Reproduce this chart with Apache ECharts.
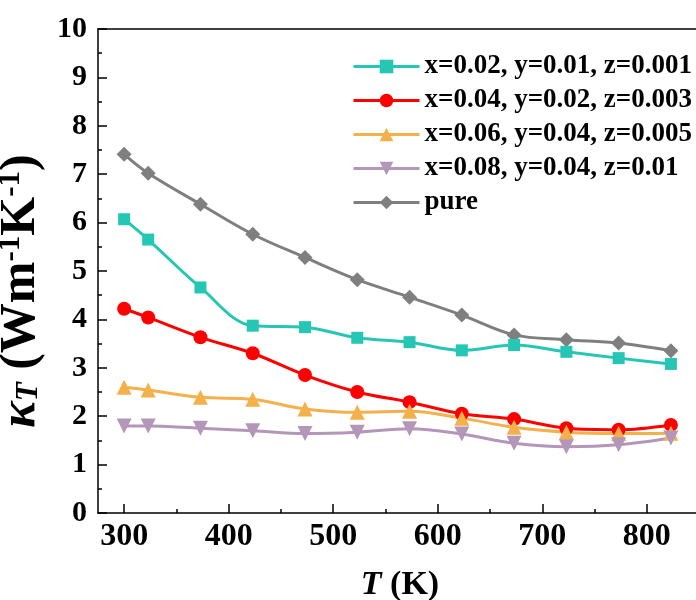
<!DOCTYPE html>
<html>
<head>
<meta charset="utf-8">
<script src="https://cdn.jsdelivr.net/npm/echarts@6/dist/echarts.min.js"></script>
<style>html,body{margin:0;padding:0;background:#fff;}#c{width:696px;height:600px;}</style>
</head>
<body>
<div id="c"></div>
<script>
var temps = [300, 323, 373, 423, 473, 523, 573, 623, 673, 723, 773, 823];
var xTicks = [300, 400, 500, 600, 700, 800];
var xMinorTicks = [350, 450, 550, 650, 750];
var seriesNames = ['x=0.02, y=0.01, z=0.001', 'x=0.04, y=0.02, z=0.003', 'x=0.06, y=0.04, z=0.005', 'x=0.08, y=0.04, z=0.01', 'pure'];
var kTeal   = [6.07, 5.65, 4.66, 3.87, 3.84, 3.62, 3.53, 3.36, 3.47, 3.33, 3.20, 3.08];
var kRed    = [4.22, 4.04, 3.63, 3.30, 2.85, 2.50, 2.29, 2.05, 1.94, 1.75, 1.72, 1.82];
var kOrange = [2.60, 2.54, 2.39, 2.35, 2.15, 2.08, 2.10, 1.96, 1.77, 1.67, 1.64, 1.65];
var kPurple = [1.80, 1.80, 1.75, 1.70, 1.64, 1.67, 1.74, 1.63, 1.44, 1.37, 1.41, 1.55];
var kPure   = [7.41, 7.02, 6.38, 5.76, 5.28, 4.82, 4.46, 4.09, 3.68, 3.58, 3.51, 3.35];

var colors = ['#26C6B5', '#FF0000', '#F4B04A', '#B496B8', '#7F7F7F'];
var symbols = ['rect', 'circle', 'triangle', 'triangle', 'diamond'];
var rotates = [0, 0, 0, 180, 0];
var sizes = [12, 14, 15, 15, 15];
var allData = [kTeal, kRed, kOrange, kPurple, kPure];

var FONT = '"Liberation Serif", "Times New Roman", serif';

function pairs(vals) { return temps.map(function (t, i) { return [t, vals[i]]; }); }

var series = allData.map(function (vals, i) {
  return {
    name: seriesNames[i],
    type: 'line',
    xAxisIndex: 0,
    data: pairs(vals),
    smooth: 0.35,
    symbol: symbols[i],
    symbolSize: sizes[i],
    symbolRotate: rotates[i],
    showAllSymbol: true,
    color: colors[i],
    lineStyle: { width: 3, color: colors[i] },
    itemStyle: { color: colors[i] },
    z: i === 4 ? 2 : 3
  };
});

var chart = echarts.init(document.getElementById('c'), null, { renderer: 'canvas' });
chart.setOption({
  animation: false,
  backgroundColor: '#fff',
  grid: { left: 98, right: 0, top: 29, bottom: 87, containLabel: false, outerBoundsMode: 'none' },
  legend: {
    orient: 'vertical',
    left: 347,
    top: 48,
    itemWidth: 66,
    itemHeight: 17,
    itemGap: 7,
    data: seriesNames,
    lineStyle: { width: 3 },
    textStyle: { fontFamily: FONT, fontWeight: 'bold', fontSize: 27, color: '#000' }
  },
  xAxis: [
    {
      type: 'value', position: 'bottom', min: 275, max: 847,
      axisLine: { show: true, lineStyle: { color: '#000', width: 1.5 } },
      axisTick: { show: true, inside: true, length: 9, customValues: xTicks, lineStyle: { color: '#000', width: 1.5 } },
      axisLabel: { show: true, customValues: xTicks, margin: 8, fontFamily: FONT, fontWeight: 'bold', fontSize: 32, color: '#000' },
      splitLine: { show: false },
      name: '{i|T}{n| (K)}',
      nameLocation: 'middle',
      nameGap: 55,
      nameTextStyle: {
        padding: [0, 0, 0, 6],
        rich: {
          i: { fontFamily: FONT, fontWeight: 'bold', fontStyle: 'italic', fontSize: 34, color: '#000' },
          n: { fontFamily: FONT, fontWeight: 'bold', fontSize: 34, color: '#000' }
        }
      }
    },
    {
      type: 'value', position: 'bottom', min: 275, max: 847,
      axisLine: { show: false },
      axisTick: { show: true, inside: true, length: 4, customValues: xMinorTicks, lineStyle: { color: '#000', width: 1.5 } },
      axisLabel: { show: false },
      splitLine: { show: false }
    },
    {
      type: 'value', position: 'top', min: 275, max: 847,
      axisLine: { show: true, lineStyle: { color: '#000', width: 1.5 } },
      axisTick: { show: false },
      axisLabel: { show: false },
      splitLine: { show: false }
    }
  ],
  yAxis: {
    type: 'value', min: 0, max: 10, interval: 1,
    axisLine: { show: true, lineStyle: { color: '#000', width: 1.5 } },
    axisTick: { show: true, inside: true, length: 9, lineStyle: { color: '#000', width: 1.5 } },
    minorTick: { show: true, splitNumber: 2, length: 4, lineStyle: { color: '#000', width: 1.5 } },
    axisLabel: { margin: 11, fontFamily: FONT, fontWeight: 'bold', fontSize: 30, color: '#000' },
    splitLine: { show: false },
    minorSplitLine: { show: false },
    name: '{k|κ}{sub|T}{n| (Wm}{sup|-1}{n|K}{sup|-1}{n|)}',
    nameLocation: 'middle',
    nameRotate: 90,
    nameGap: 38,
    nameTextStyle: {
      padding: [0, 40, 0, 0],
      rich: {
        k: { fontFamily: FONT, fontWeight: 'bold', fontStyle: 'italic', fontSize: 50, color: '#000' },
        sub: { fontFamily: FONT, fontWeight: 'bold', fontStyle: 'italic', fontSize: 31, color: '#000', padding: [16, 0, 0, 0] },
        n: { fontFamily: FONT, fontWeight: 'bold', fontSize: 50, color: '#000' },
        sup: { fontFamily: FONT, fontWeight: 'bold', fontSize: 31, color: '#000', padding: [0, 0, 20, 0] }
      }
    }
  },
  series: series
});
</script>
</body>
</html>
